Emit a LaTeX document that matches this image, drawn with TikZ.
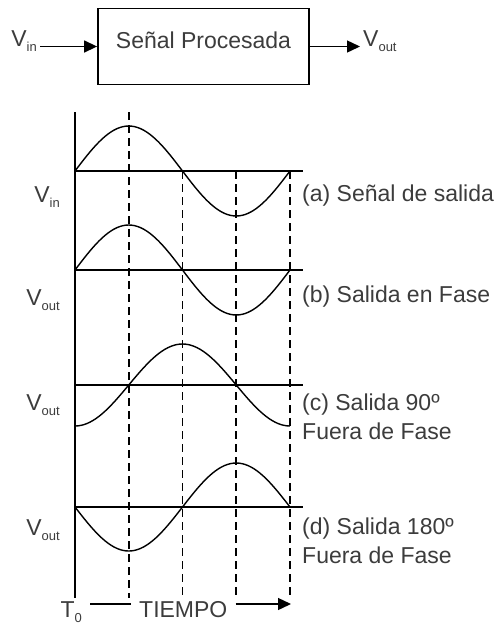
\documentclass[tikz,border=0pt]{standalone}
\usepackage{fontspec}
\setmainfont{Liberation Sans}
\usetikzlibrary{arrows.meta,positioning}
\definecolor{txtgray}{HTML}{3C3C3C}
\newcommand{\lowsub}[1]{\raisebox{-5pt}{\fontsize{13}{13}\selectfont #1}}

\begin{document}
\begin{tikzpicture}[x=1pt,y=-1pt,
  txt/.style={text=txtgray,font=\fontsize{23}{29}\selectfont,inner sep=1pt},
  sig/.style={txt,text height=16pt,text depth=16pt,inner xsep=3pt},
  procbox/.style={draw,line width=1.8pt,minimum width=211pt,minimum height=76pt,
    txt,text height=17pt,text depth=14pt},
  axlbl/.style={txt,text height=26pt,text depth=0pt,inner xsep=8pt},
  flow/.style={-{Triangle[length=13pt,width=12pt]},line width=1.4pt},
  zero/.style={line width=2.8pt},
  wave/.style={line width=1.4pt,domain=0:360,samples=73,smooth},
  guide/.style={line width=1.6pt,dash pattern=on 8pt off 5pt}]
  \useasboundingbox (0,0) rectangle (504,625);
  \node[procbox] (proc) at (203.5,46.5) {Señal Procesada};
  \node[sig,anchor=east] (vin) at (40,46.5) {V\lowsub{in}};
  \node[sig,anchor=west] (vout) at (360,46.5) {V\lowsub{out}};
  \draw[flow] (vin) -- (proc);
  \draw[flow] (proc) -- (vout);
  \draw[line width=1.8pt] (75,112) -- (75,598);
  \foreach \y in {171,270,385,507}
    \draw[zero] (75,\y) -- (303,\y);
  \draw[guide] (129,112) -- (129,598);
  \foreach \x in {182.5,236.25,290}
    \draw[guide] (\x,171) -- (\x,598);
  \draw[wave] plot ({75+\x/360*215},{171-45*sin(\x)});
  \draw[wave] plot ({75+\x/360*215},{270-45*sin(\x)});
  \draw[wave] plot ({75+\x/360*215},{385+41*cos(\x)});
  \draw[wave] plot ({75+\x/360*215},{507+44*sin(\x)});
  \node[txt,anchor=base east] (vina) at (61,202) {V\lowsub{in}};
  \node[txt,anchor=base east] (voutb) at (61,305) {V\lowsub{out}};
  \node[txt,anchor=base east] (voutc) at (61,410) {V\lowsub{out}};
  \node[txt,anchor=base east] (voutd) at (61,535) {V\lowsub{out}};
  \node[txt,anchor=base west] (la) at (301,201) {(a) Señal de salida};
  \node[txt,anchor=base west] (lb) at (301,302) {(b) Salida en Fase};
  \node[txt,anchor=base west,align=left] (lc) at (301,439) {(c) Salida 90º\\Fuera de Fase};
  \node[txt,anchor=base west,align=left] (ld) at (301,563) {(d) Salida 180º\\Fuera de Fase};
  \node[axlbl,anchor=base east] (t0) at (90,617) {T\lowsub{0}};
  \node[axlbl,anchor=base west] (tiempo) at (131,617) {TIEMPO};
  \coordinate (tend) at (291,604);
  \draw[line width=1.4pt] (t0) -- (tiempo);
  \draw[flow] (tiempo) -- (tend);
\end{tikzpicture}
\end{document}
